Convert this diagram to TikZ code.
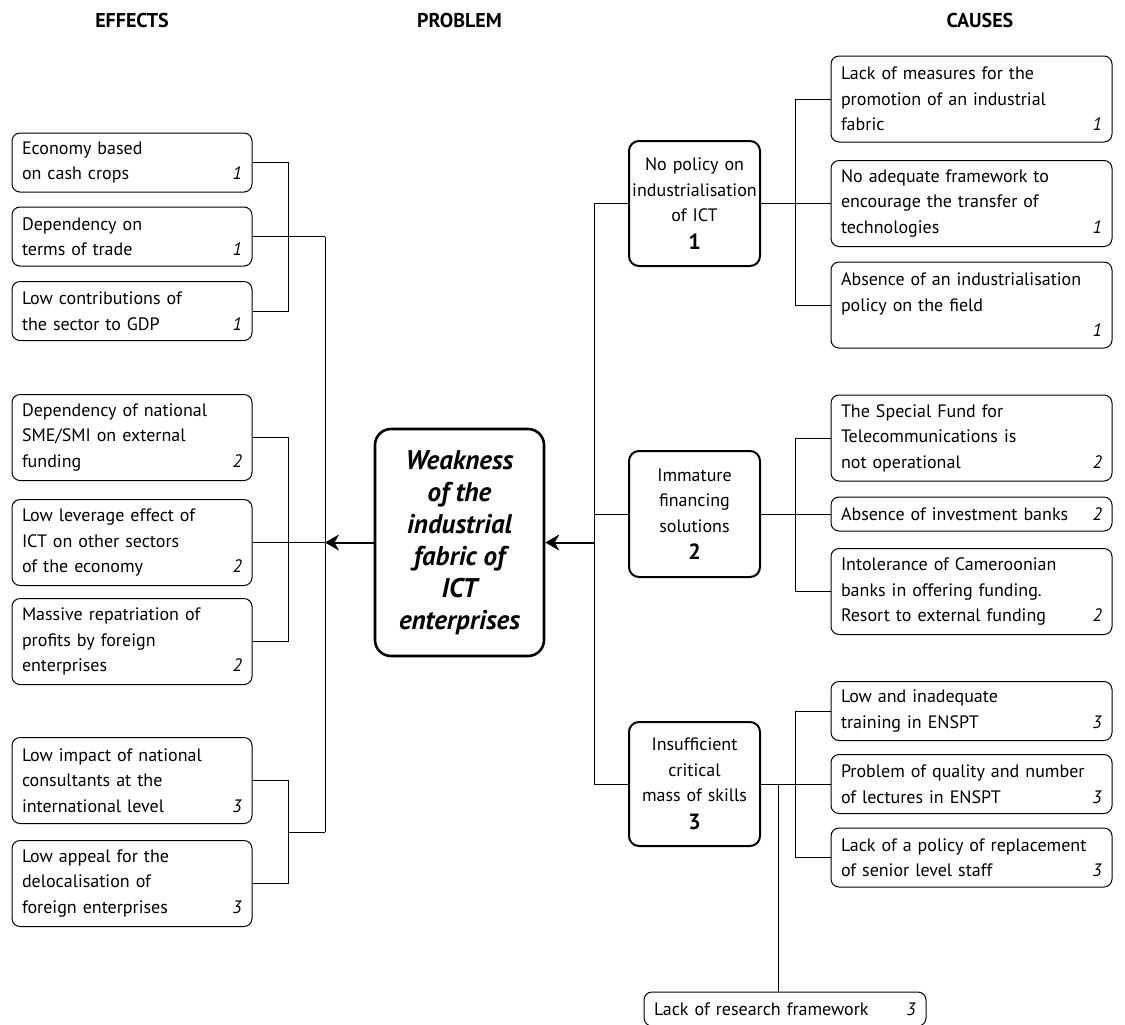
\documentclass[tikz,border=0pt]{standalone}
\usepackage{fontspec}
\setmainfont{PT Sans}
\usetikzlibrary{arrows.meta, calc}
\hyphenpenalty=10000
\exhyphenpenalty=10000
\newcommand{\grpnum}[1]{\hspace*{0pt plus 1filll}\textit{#1}}
\tikzset{
  effect/.style={draw, rounded corners=4pt, line width=0.5pt, text width=110pt,
                 inner xsep=5pt, inner ysep=2pt, align=left,
                 font=\fontsize{9}{12.75}\selectfont},
  cause/.style={effect, text width=130.5pt},
  lines1/.style={minimum height=17pt},
  lines2/.style={minimum height=29.5pt},
  lines3/.style={minimum height=43pt},
  group/.style={draw, rounded corners=5pt, line width=1pt, text width=63.5pt,
                inner xsep=1pt, minimum height=#1, align=center,
                font=\fontsize{9}{12.75}\selectfont},
  group/.default=62.5pt,
  problem/.style={draw, rounded corners=8pt, line width=1.3pt, minimum width=84.5pt,
                  minimum height=113.5pt, align=center,
                  font=\fontsize{13.5}{16}\selectfont\bfseries\itshape},
  head/.style={font=\fontsize{10}{12}\selectfont\bfseries},
  link/.style={line width=0.5pt},
  arr/.style={-{Stealth[length=7pt, width=8pt]}, line width=1pt},
}
\newcommand{\gnum}[1]{\\[1pt]{\fontsize{11}{13}\selectfont\bfseries #1}}

\begin{document}
\begin{tikzpicture}[x=0.5pt, y=-0.5pt]
  \useasboundingbox (0,0) rectangle (1125,1024);
  \node[head] (heff)  at (132,20)   {EFFECTS};
  \node[head] (hprob) at (459.5,20) {PROBLEM};
  \node[head] (hcau)  at (980,20)   {CAUSES};

  \node[problem] (prob) at (459.5,542.5)
    {Weakness\\of the\\industrial\\fabric of\\ICT\\enterprises};

  % effects
  \node[effect, lines2] (e1) at (132,162.5) {Economy based\\on cash crops\grpnum{1}};
  \node[effect, lines2] (e2) at (132,236.5) {Dependency on\\terms of trade\grpnum{1}};
  \node[effect, lines2] (e3) at (132,311)   {Low contributions of\\the sector to GDP\grpnum{1}};
  \node[effect, lines3] (e4) at (132,437.5) {Dependency of national\\SME/SMI on external\\funding\grpnum{2}};
  \node[effect, lines3] (e5) at (132,542.5) {Low leverage effect of\\ICT on other sectors\\of the economy\grpnum{2}};
  \node[effect, lines3] (e6) at (132,641.5) {Massive repatriation of\\profits by foreign\\enterprises\grpnum{2}};
  \node[effect, lines3] (e7) at (132,780.5) {Low impact of national\\consultants at the\\international level\grpnum{3}};
  \node[effect, lines3] (e8) at (132,883.5) {Low appeal for the\\delocalisation of\\foreign enterprises\grpnum{3}};

  % cause groups
  \node[group]      (p1) at (694.5,203.5) {No policy on\\industrialisation\\of ICT\gnum{1}};
  \node[group=63pt] (p2) at (694.5,514)   {Immature\\financing\\solutions\gnum{2}};
  \node[group=62pt] (p3) at (694.5,784)   {Insufficient\\critical\\mass of skills\gnum{3}};

  % causes
  \node[cause, lines3] (c1) at (971.5,99)    {Lack of measures for the\\promotion of an industrial\\fabric\grpnum{1}};
  \node[cause, lines3] (c2) at (971.5,203.5) {No adequate framework to\\encourage the transfer of\\technologies\grpnum{1}};
  \node[cause, lines3] (c3) at (971.5,305)   {Absence of an industrialisation\\policy on the field\\\grpnum{1}};
  \node[cause, lines3] (c4) at (971.5,438)   {The Special Fund for\\Telecommunications is\\not operational\grpnum{2}};
  \node[cause, lines1] (c5) at (971.5,514)   {Absence of investment banks\grpnum{2}};
  \node[cause, lines3] (c6) at (971.5,591.5) {Intolerance of Cameroonian\\banks in offering funding.\\Resort to external funding\grpnum{2}};
  \node[cause, lines2] (c7) at (971.5,711)   {Low and inadequate\\training in ENSPT\grpnum{3}};
  \node[cause, lines2] (c8) at (971.5,784)   {Problem of quality and number\\of lectures in ENSPT\grpnum{3}};
  \node[cause, lines2] (c9) at (971.5,857.5) {Lack of a policy of replacement\\of senior level staff\grpnum{3}};
  \node[cause, lines1, text width=131pt] (c10) at (785,1009) {Lack of research framework\grpnum{3}};

  \coordinate (bl) at (288,0);
  \coordinate (ml) at (325,0);
  \coordinate (mr) at (594,0);
  \coordinate (br) at (795,0);
  \coordinate (rj) at (778,784);
  \coordinate (j3) at ($(e7.east)!.5!(e8.east)$);

  \draw[link] (e1.east) -| (bl |- e3.east) -- (e3.east);
  \draw[link] (e4.east) -| (bl |- e6.east) -- (e6.east);
  \draw[link] (e7.east) -| (bl |- e8.east) -- (e8.east);
  \draw[link] (e2.east) -- (e2.east -| ml);
  \draw[link] (e5.east) -- (e5.east -| ml);
  \draw[link] (j3 -| bl) -- (j3 -| ml);
  \draw[link] (e2.east -| ml) -- (j3 -| ml);
  \draw[arr] (prob.west) -- (prob.west -| ml);

  \draw[arr] (prob.east -| mr) -- (prob.east);
  \draw[link] (p1.west) -| (mr |- p3.west) -- (p3.west);
  \draw[link] (p2.west) -- (p2.west -| mr);
  \draw[link] (c1.west) -| (br |- c3.west) -- (c3.west);
  \draw[link] (c4.west) -| (br |- c6.west) -- (c6.west);
  \draw[link] (c7.west) -| (br |- c9.west) -- (c9.west);
  \draw[link] (p1.east) -- (c2.west);
  \draw[link] (p2.east) -- (c5.west);
  \draw[link] (p3.east) -- (c8.west);
  \draw[link] (rj) -- (rj |- c10.north);
\end{tikzpicture}
\end{document}
